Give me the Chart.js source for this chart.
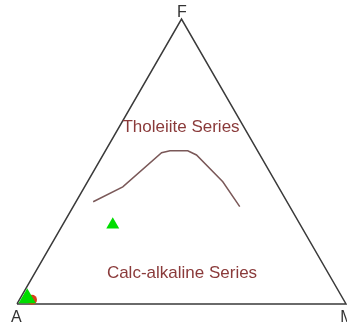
<!DOCTYPE html>
<html>
<head>
<meta charset="utf-8">
<script src="https://cdn.jsdelivr.net/npm/chart.js@4.4.0/dist/chart.umd.min.js"></script>
<style>
html,body{margin:0;padding:0;background:#fff;}
canvas{display:block;}
</style>
</head>
<body>
<canvas id="c" width="347" height="329"></canvas>
<script>
// Ternary AFM diagram data (A = Na2O+K2O, F = FeO, M = MgO), values in %
const vertexNames = ['A', 'F', 'M'];
const outlineA = [100, 0, 0, 100];
const outlineF = [0, 100, 0, 0];
const outlineM = [0, 0, 100, 0];

// Tholeiite / calc-alkaline boundary line
const boundaryA = [58.9, 47.3, 29.5, 26.6, 21.2, 19.3, 16.0, 15.2];
const boundaryF = [35.9, 41.1, 53.1, 53.8, 53.8, 52.3, 42.9, 34.2];
const boundaryM = [5.2, 11.6, 17.4, 19.6, 25.0, 28.4, 41.1, 50.6];

// Samples
const greenA = [95.9, 57.0];
const greenF = [2.0, 27.8];
const greenM = [2.1, 15.2];
const redA = [94.7];
const redF = [1.5];
const redM = [3.8];

const seriesLabels = ['Tholeiite Series', 'Calc-alkaline Series'];

function toXY(A, F, M) {
  return A.map((a, i) => {
    const s = a + F[i] + M[i];
    const f = F[i] / s * 100, m = M[i] / s * 100;
    return { x: m + f / 2, y: f * Math.sqrt(3) / 2 };
  });
}

const labelPlugin = {
  id: 'labels',
  afterDatasetsDraw(chart) {
    const ctx = chart.ctx;
    const xs = chart.scales.x, ys = chart.scales.y;
    const px = v => xs.getPixelForValue(v), py = v => ys.getPixelForValue(v);
    ctx.save();
    ctx.textAlign = 'center';
    ctx.textBaseline = 'alphabetic';
    ctx.fillStyle = '#333333';
    ctx.font = '16px "Liberation Sans", Arial, sans-serif';
    const h = Math.sqrt(3) / 2 * 100;
    ctx.fillText(vertexNames[0], px(0) - 0.7, py(0) + 18.5);
    ctx.fillText(vertexNames[1], px(50) + 0.5, py(h) - 2.5);
    ctx.fillText(vertexNames[2], px(100) + 1, py(0) + 18.5);
    ctx.fillStyle = '#8a3a3a';
    ctx.font = '17px "Liberation Sans", Arial, sans-serif';
    ctx.fillText(seriesLabels[0], px(49.85), py(52.4));
    ctx.fillText(seriesLabels[1], px(50.15), py(7.9));
    ctx.restore();
  }
};

new Chart(document.getElementById('c'), {
  type: 'scatter',
  data: {
    datasets: [
      {
        data: toXY(greenA, greenF, greenM),
        pointStyle: 'triangle',
        pointRadius: [10, 7.5],
        backgroundColor: '#00dd00',
        borderColor: '#00dd00',
        borderWidth: 0,
        clip: false
      },
      {
        data: toXY(redA, redF, redM),
        pointStyle: 'circle',
        pointRadius: 5,
        backgroundColor: '#d8401a',
        borderColor: '#d8401a',
        borderWidth: 0,
        clip: false
      },
      {
        data: toXY(boundaryA, boundaryF, boundaryM),
        showLine: true,
        borderColor: '#7a5858',
        borderWidth: 1.5,
        pointRadius: 0,
        tension: 0,
        clip: false
      },
      {
        data: toXY(outlineA, outlineF, outlineM),
        showLine: true,
        borderColor: '#3a3a3a',
        borderWidth: 1.5,
        pointRadius: 0,
        tension: 0,
        clip: false
      }
    ]
  },
  options: {
    responsive: false,
    animation: false,
    devicePixelRatio: 1,
    layout: { padding: 0, autoPadding: false },
    plugins: { legend: { display: false }, tooltip: { enabled: false } },
    scales: {
      x: { type: 'linear', display: false, min: -5.17, max: 100.3 },
      y: { type: 'linear', display: false, min: -7.6, max: 92.4 }
    }
  },
  plugins: [labelPlugin]
});
</script>
</body>
</html>
